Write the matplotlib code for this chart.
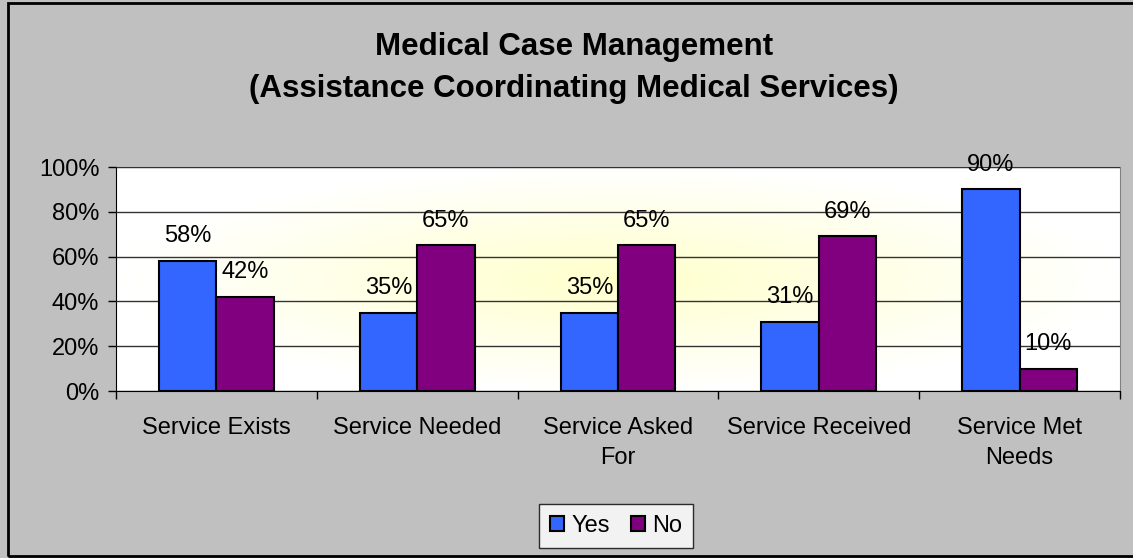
"""
Medical case management: grouped bar chart of Yes / No shares.
"""

import numpy as np
import matplotlib.pyplot as plt
from matplotlib.patches import Rectangle
from matplotlib.colors import LinearSegmentedColormap

categories = ["Service Exists", "Service Needed", "Service Asked\nFor",
              "Service Received", "Service Met\nNeeds"]
yes_values = [58, 35, 35, 31, 90]
no_values = [42, 65, 65, 69, 10]
y_ticks = [0, 20, 40, 60, 80, 100]

plt.rcParams["font.family"] = ["Liberation Sans", "DejaVu Sans"]


def main():
    fig = plt.figure(figsize=(11.33, 5.58), dpi=100)
    fig.patch.set_facecolor("#C0C0C0")

    # outer frame (left, top, bottom edges visible)
    fig.add_artist(Rectangle((8 / 1133, 2 / 558), 1.5, 553 / 558,
                             transform=fig.transFigure, fill=False,
                             edgecolor="black", linewidth=2))

    ax = fig.add_axes([116 / 1133, 1 - 391 / 558, (1120 - 116) / 1133, (391 - 167) / 558])

    n = len(categories)
    x = np.arange(n)
    width = 1 / 3.5

    # radial yellow-to-white background
    gx, gy = np.meshgrid(np.linspace(-1, 1, 400), np.linspace(-1, 1, 200))
    r = np.clip(np.sqrt(gx ** 2 + gy ** 2), 0, 1)
    cmap = LinearSegmentedColormap.from_list("bg", ["#FFFFCC", "#FFFFFF"])
    ax.imshow(r, cmap=cmap, extent=[-0.5, n - 0.5, 0, 100], aspect="auto",
              zorder=0, vmin=0, vmax=1)

    yes_bars = ax.bar(x - width / 2, yes_values, width, color="#3366FF",
                      edgecolor="black", linewidth=1.5, label="Yes", zorder=3)
    no_bars = ax.bar(x + width / 2, no_values, width, color="#800080",
                     edgecolor="black", linewidth=1.5, label="No", zorder=3)

    for bars in (yes_bars, no_bars):
        ax.bar_label(bars, labels=[f"{v}%" for v in bars.datavalues],
                     padding=10, fontsize=17, zorder=4)

    ax.set_xlim(-0.5, n - 0.5)
    ax.set_ylim(0, 100)
    ax.set_yticks(y_ticks)
    ax.set_yticklabels([f"{t}%" for t in y_ticks], fontsize=17)
    ax.yaxis.grid(True, color="#333333", linewidth=1)
    ax.set_axisbelow(False)
    for line in ax.get_ygridlines():
        line.set_zorder(1)

    ax.set_xticks(x)
    ax.set_xticklabels(categories, fontsize=17, linespacing=1.45)
    ax.set_xticks(np.arange(n + 1) - 0.5, minor=True)
    ax.tick_params(axis="x", which="major", length=0, pad=19)
    ax.tick_params(axis="x", which="minor", length=6, width=1, color="black")
    ax.tick_params(axis="y", length=6, width=1, pad=6)

    ax.spines["top"].set_color("#808080")
    ax.spines["right"].set_color("#808080")
    ax.spines["left"].set_color("black")
    ax.spines["bottom"].set_color("black")

    fig.text(574 / 1133, 1 - 47 / 558, "Medical Case Management", ha="center", va="center",
             fontsize=22.5, fontweight="bold")
    fig.text(574 / 1133, 1 - 89 / 558, "(Assistance Coordinating Medical Services)",
             ha="center", va="center", fontsize=22.5, fontweight="bold")

    leg = fig.legend(loc="center", bbox_to_anchor=(616 / 1133, 1 - 526 / 558), ncol=2,
                     fontsize=17, frameon=True, fancybox=False, handlelength=0.6,
                     handleheight=0.6, handletextpad=0.3, columnspacing=0.9,
                     borderpad=0.45)
    leg.get_frame().set_edgecolor("black")
    leg.get_frame().set_linewidth(1)
    leg.get_frame().set_facecolor("white")
    for h in leg.legend_handles:
        h.set_edgecolor("black")
        h.set_linewidth(1.5)

    fig.savefig("out.png", dpi=100, facecolor=fig.get_facecolor())


if __name__ == "__main__":
    main()
